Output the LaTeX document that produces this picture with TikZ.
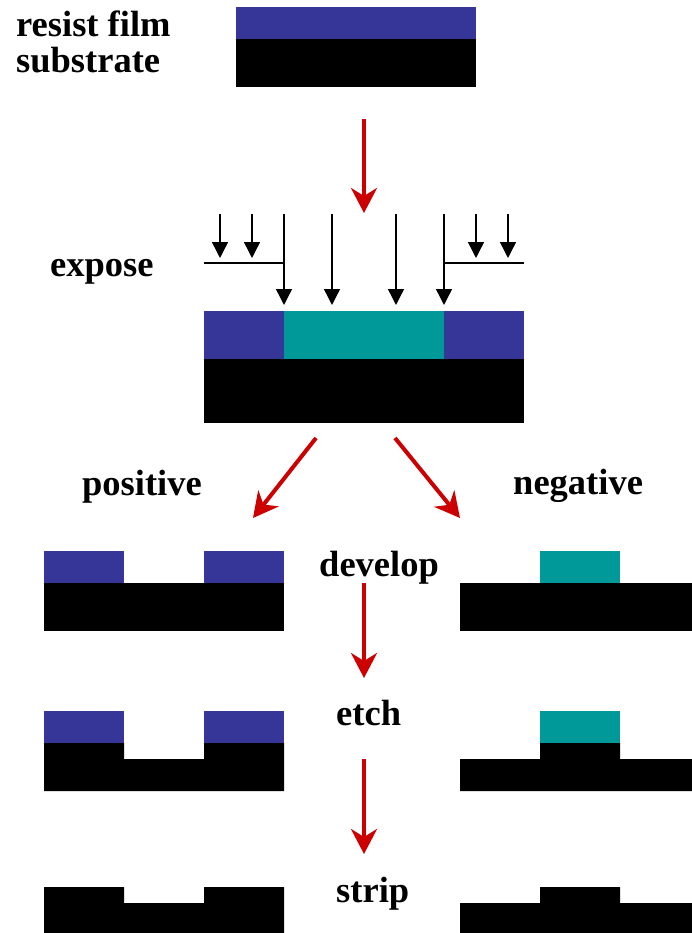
\documentclass[tikz,border=0pt]{standalone}
\usepackage{fontspec}
\setmainfont{Liberation Serif}
\usetikzlibrary{arrows.meta}
\definecolor{resistblue}{HTML}{363699}
\definecolor{exposedteal}{HTML}{009999}
\definecolor{flowred}{HTML}{CC0000}
\tikzset{
  resist/.style={fill=resistblue},
  exposed/.style={fill=exposedteal},
  substrate/.style={fill=black},
  label/.style={inner sep=0pt, anchor=base west, font=\fontsize{36.5}{36}\selectfont\bfseries},
  flow/.style={draw=flowred, line width=4pt, -{Stealth[length=25pt,width=26pt,inset=8pt]}},
  ray/.style={draw=black, line width=1.4pt, -{Triangle[length=16pt,width=16pt]}},
  mask/.style={draw=black, line width=2.8pt}
}
\begin{document}
\begin{tikzpicture}[x=1pt,y=-1pt]
\useasboundingbox (0,0) rectangle (692,933);

% ---- starting wafer: resist film on substrate
\fill[resist] (236,7) rectangle (476,39);
\fill[substrate] (236,39) rectangle (476,87);
\node[label, align=left] (lbl1) at (16,36.7) {resist film};
\node[label] (lbl2) at (16,72.7) {substrate};

% ---- step 1 arrow
\coordinate (a1s) at (364,119);
\coordinate (a1e) at (364,213);
\draw[flow] (a1s) -- (a1e);

% ---- exposure through the mask
\node[label] (expose) at (50,276) {expose};
\coordinate (mL1) at (204,263);
\coordinate (mL2) at (284,263);
\coordinate (mR1) at (444,263);
\coordinate (mR2) at (524,263);
\draw[mask] (mL1) -- (mL2);
\draw[mask] (mR1) -- (mR2);
\foreach \x in {220,252,476,508}{
  \coordinate (rs\x) at (\x,214);
  \coordinate (re\x) at (\x,258);
  \draw[ray] (rs\x) -- (re\x);
}
\foreach \x in {284,332,396,444}{
  \coordinate (ls\x) at (\x,214);
  \coordinate (le\x) at (\x,305);
  \draw[ray] (ls\x) -- (le\x);
}
\fill[resist] (204,311) rectangle (284,359);
\fill[exposed] (284,311) rectangle (444,359);
\fill[resist] (444,311) rectangle (524,359);
\fill[substrate] (204,359) rectangle (524,423);

% ---- branches
\coordinate (bLs) at (316,438);
\coordinate (bLe) at (253,518);
\coordinate (bRs) at (395,438);
\coordinate (bRe) at (460,518);
\draw[flow] (bLs) -- (bLe);
\draw[flow] (bRs) -- (bRe);
\node[label] (pos) at (82,495) {positive};
\node[label] (neg) at (513,494) {negative};

% ---- develop
\node[label] (dev) at (319,576) {develop};
\fill[resist] (44,551) rectangle (124,583);
\fill[resist] (204,551) rectangle (284,583);
\fill[substrate] (44,583) rectangle (284,631);
\fill[exposed] (540,551) rectangle (620,583);
\fill[substrate] (460,583) rectangle (692,631);

\coordinate (a2s) at (364,583);
\coordinate (a2e) at (364,678);
\draw[flow] (a2s) -- (a2e);

% ---- etch
\node[label] (etch) at (336,725) {etch};
\fill[resist] (44,711) rectangle (124,743);
\fill[resist] (204,711) rectangle (284,743);
\fill[substrate] (44,743) -- (124,743) -- (124,759) -- (204,759) -- (204,743)
  -- (284,743) -- (284,791) -- (44,791) -- cycle;
\fill[exposed] (540,711) rectangle (620,743);
\fill[substrate] (540,743) -- (620,743) -- (620,759) -- (692,759) -- (692,791)
  -- (460,791) -- (460,759) -- (540,759) -- cycle;

\coordinate (a3s) at (364,759);
\coordinate (a3e) at (364,854);
\draw[flow] (a3s) -- (a3e);

% ---- strip
\node[label] (strip) at (336,902) {strip};
\fill[substrate] (44,887) -- (124,887) -- (124,903) -- (204,903) -- (204,887)
  -- (284,887) -- (284,933) -- (44,933) -- cycle;
\fill[substrate] (540,887) -- (620,887) -- (620,903) -- (692,903) -- (692,933)
  -- (460,933) -- (460,903) -- (540,903) -- cycle;
\end{tikzpicture}
\end{document}
